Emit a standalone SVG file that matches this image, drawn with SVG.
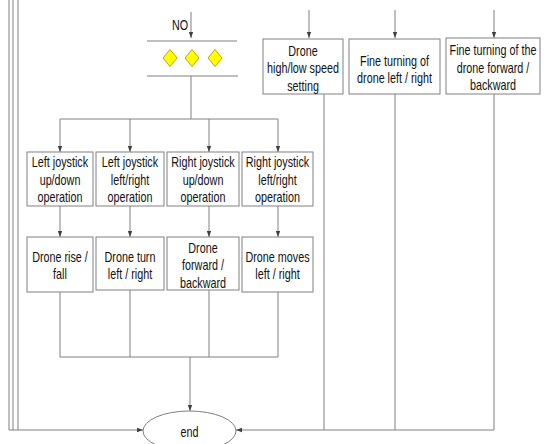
<svg xmlns="http://www.w3.org/2000/svg" width="544" height="444" viewBox="0 0 544 444">
<style>
.box{fill:#fff;stroke:#808080;stroke-width:1}
.ln{fill:none;stroke:#808080;stroke-width:1}
.t{font-family:"Liberation Sans",Arial,sans-serif;font-size:14px;fill:#111;text-anchor:middle}
.dia{fill:#ffff00;stroke:#c8a000;stroke-width:1}
</style>
<defs>
<marker id="ah" viewBox="0 0 6 6" refX="6" refY="3" markerWidth="6" markerHeight="6" markerUnits="userSpaceOnUse" orient="auto">
<path d="M0,0.8 L6,3 L0,5.2 Z" fill="#404040"/>
</marker>
</defs>
<rect width="544" height="444" fill="#fff"/>
<g id="connectors">
<line class="ln" x1="9" y1="0" x2="9" y2="430"/>
<line class="ln" x1="13" y1="0" x2="13" y2="430"/>
<line class="ln" x1="18" y1="0" x2="18" y2="430"/>
<line class="ln" x1="9" y1="430" x2="143" y2="430" marker-end="url(#ah)"/>
<line class="ln" x1="191" y1="12" x2="191" y2="38" marker-end="url(#ah)"/>
<line class="ln" x1="309" y1="10" x2="309" y2="38" marker-end="url(#ah)"/>
<line class="ln" x1="395" y1="10" x2="395" y2="38" marker-end="url(#ah)"/>
<line class="ln" x1="494" y1="10" x2="494" y2="38" marker-end="url(#ah)"/>
<line class="ln" x1="191" y1="76" x2="191" y2="119"/>
<line class="ln" x1="60" y1="119" x2="278" y2="119"/>
<line class="ln" x1="60" y1="119" x2="60" y2="152" marker-end="url(#ah)"/>
<line class="ln" x1="130" y1="119" x2="130" y2="152" marker-end="url(#ah)"/>
<line class="ln" x1="209" y1="119" x2="209" y2="152" marker-end="url(#ah)"/>
<line class="ln" x1="278" y1="119" x2="278" y2="152" marker-end="url(#ah)"/>
<line class="ln" x1="60" y1="206" x2="60" y2="237" marker-end="url(#ah)"/>
<line class="ln" x1="130" y1="206" x2="130" y2="237" marker-end="url(#ah)"/>
<line class="ln" x1="209" y1="206" x2="209" y2="237" marker-end="url(#ah)"/>
<line class="ln" x1="278" y1="206" x2="278" y2="237" marker-end="url(#ah)"/>
<line class="ln" x1="60" y1="292" x2="60" y2="357"/>
<line class="ln" x1="130" y1="290" x2="130" y2="357"/>
<line class="ln" x1="209" y1="290" x2="209" y2="357"/>
<line class="ln" x1="278" y1="292" x2="278" y2="357"/>
<line class="ln" x1="60" y1="357" x2="278" y2="357"/>
<line class="ln" x1="190" y1="357" x2="190" y2="411" marker-end="url(#ah)"/>
<line class="ln" x1="324" y1="94" x2="324" y2="430"/>
<line class="ln" x1="395" y1="94" x2="395" y2="430"/>
<line class="ln" x1="494" y1="94" x2="494" y2="430"/>
<line class="ln" x1="494" y1="430" x2="236" y2="430" marker-end="url(#ah)"/>
</g>
<g id="no_label"><g transform="translate(180,0) scale(0.77,1)"><text class="t" x="0" y="30">NO</text></g></g>
<g id="diamonds">
<line class="ln" x1="147" y1="41" x2="237" y2="41"/>
<line class="ln" x1="147" y1="76" x2="238" y2="76"/>
<path class="dia" d="M170,49.5 L177,58 L170,66.5 L163,58 Z"/>
<path class="dia" d="M192,49.5 L199,58 L192,66.5 L185,58 Z"/>
<path class="dia" d="M215,49.5 L222,58 L215,66.5 L208,58 Z"/>
</g>
<g id="speed">
<rect class="box" x="263" y="39" width="80" height="55"/>
<g transform="translate(303,0) scale(0.77,1)">
<text class="t" x="0" y="56">Drone</text>
<text class="t" x="0" y="73">high/low speed</text>
<text class="t" x="0" y="91">setting</text>
</g>
</g>
<g id="fine_lr">
<rect class="box" x="349" y="39" width="91" height="55"/>
<g transform="translate(394.5,0) scale(0.77,1)">
<text class="t" x="0" y="66">Fine turning of</text>
<text class="t" x="0" y="83">drone left / right</text>
</g>
</g>
<g id="fine_fb">
<rect class="box" x="446" y="38" width="94" height="56"/>
<g transform="translate(493,0) scale(0.77,1)">
<text class="t" x="0" y="55">Fine turning of the</text>
<text class="t" x="0" y="73">drone forward /</text>
<text class="t" x="0" y="90">backward</text>
</g>
</g>
<g id="ljud">
<rect class="box" x="27" y="152" width="66" height="54"/>
<g transform="translate(60,0) scale(0.77,1)">
<text class="t" x="0" y="167">Left joystick</text>
<text class="t" x="0" y="185">up/down</text>
<text class="t" x="0" y="202">operation</text>
</g>
</g>
<g id="ljlr">
<rect class="box" x="96" y="152" width="68" height="54"/>
<g transform="translate(130,0) scale(0.77,1)">
<text class="t" x="0" y="167">Left joystick</text>
<text class="t" x="0" y="185">left/right</text>
<text class="t" x="0" y="202">operation</text>
</g>
</g>
<g id="rjud">
<rect class="box" x="167" y="152" width="72" height="54"/>
<g transform="translate(203,0) scale(0.77,1)">
<text class="t" x="0" y="167">Right joystick</text>
<text class="t" x="0" y="185">up/down</text>
<text class="t" x="0" y="202">operation</text>
</g>
</g>
<g id="rjlr">
<rect class="box" x="242" y="152" width="71" height="54"/>
<g transform="translate(277.5,0) scale(0.77,1)">
<text class="t" x="0" y="167">Right joystick</text>
<text class="t" x="0" y="185">left/right</text>
<text class="t" x="0" y="202">operation</text>
</g>
</g>
<g id="rise">
<rect class="box" x="27" y="237" width="66" height="55"/>
<g transform="translate(60,0) scale(0.77,1)">
<text class="t" x="0" y="262">Drone rise /</text>
<text class="t" x="0" y="279">fall</text>
</g>
</g>
<g id="turn">
<rect class="box" x="96" y="237" width="68" height="53"/>
<g transform="translate(130,0) scale(0.77,1)">
<text class="t" x="0" y="262">Drone turn</text>
<text class="t" x="0" y="279">left / right</text>
</g>
</g>
<g id="fwd">
<rect class="box" x="167" y="237" width="72" height="53"/>
<g transform="translate(203,0) scale(0.77,1)">
<text class="t" x="0" y="253">Drone</text>
<text class="t" x="0" y="270">forward /</text>
<text class="t" x="0" y="288">backward</text>
</g>
</g>
<g id="moves">
<rect class="box" x="242" y="237" width="71" height="55"/>
<g transform="translate(277.5,0) scale(0.77,1)">
<text class="t" x="0" y="262">Drone moves</text>
<text class="t" x="0" y="279">left / right</text>
</g>
</g>
<g id="end">
<ellipse class="box" cx="189.5" cy="431" rx="46.5" ry="20"/>
<g transform="translate(189.5,0) scale(0.77,1)"><text class="t" x="0" y="437">end</text></g>
</g>
</svg>
